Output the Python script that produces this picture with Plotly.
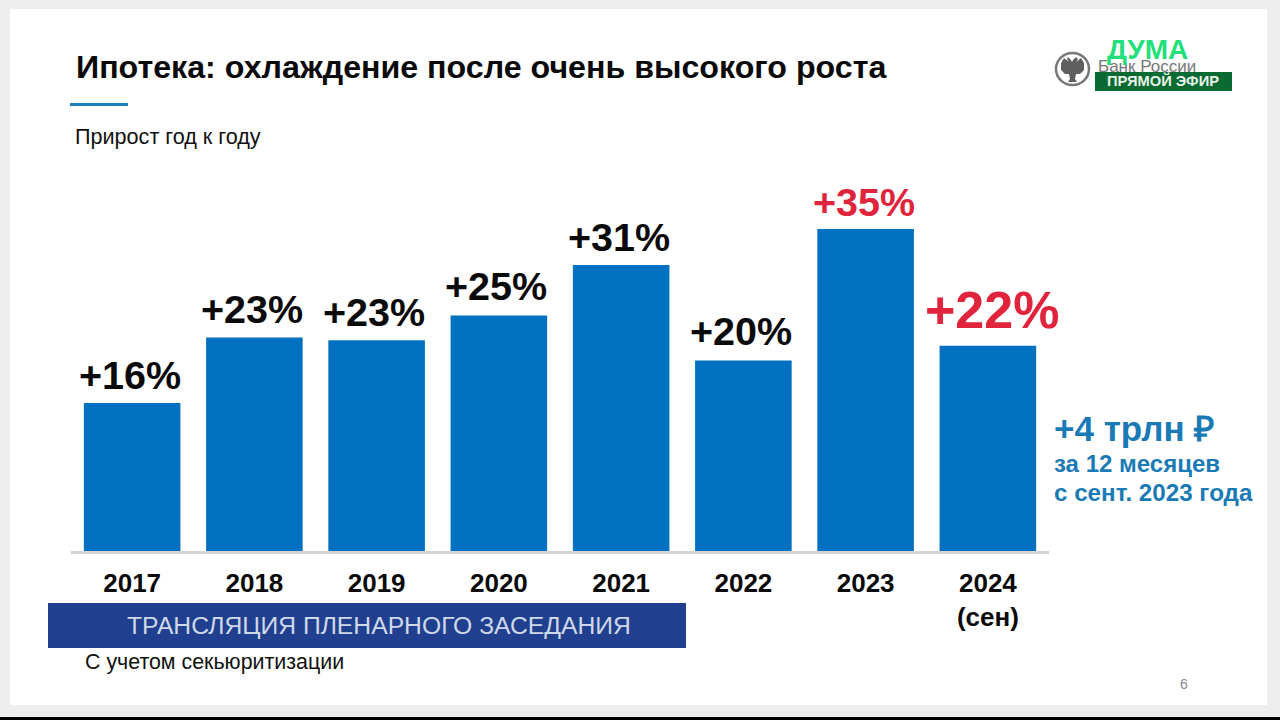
import plotly.graph_objects as go

years = ["2017", "2018", "2019", "2020", "2021", "2022", "2023", "2024<br>(сен)"]
growth = [16.1, 23.2, 22.9, 25.6, 31.1, 20.7, 35.0, 22.3]
labels = ["+16%", "+23%", "+23%", "+25%", "+31%", "+20%", "+35%", "+22%"]
label_colors = ["#0a0a0a"] * 6 + ["#e0243c", "#e0243c"]
label_sizes = [39.5, 39.5, 39.5, 39.5, 39.5, 39.5, 39.5, 52]
label_xshift = [-2.5, -2.5, -2.5, -2.5, -2.5, -2.5, -2, 4]
label_yshift = [5, 6, 5, 6, 5, 7, 4, 6]

W, H = 1280, 720
L, R, T, B = 71, 1049, 150, 551
SANS = "Liberation Sans"


def px(x):
    return (x - L) / (R - L)


def py(y):
    return (B - y) / (B - T)


def rect(x0, y0, x1, y1, color, layer="above"):
    return dict(type="rect", xref="paper", yref="paper", x0=px(x0), x1=px(x1), y0=py(y0), y1=py(y1),
                fillcolor=color, line_width=0, layer=layer)


def text(x, y, s, size, color, bold=False, anchor="left"):
    return dict(xref="paper", yref="paper", x=px(x), y=py(y), text=f"<b>{s}</b>" if bold else s,
                showarrow=False, xanchor=anchor, yanchor="middle", align=anchor,
                font=dict(family=SANS, size=size, color=color), borderpad=0, borderwidth=0)


def path(points, color):
    d = "M " + " L ".join(f"{px(a):.5f},{py(b):.5f}" for a, b in points) + " Z"
    return dict(type="path", xref="paper", yref="paper", path=d, fillcolor=color, line_width=0)


fig = go.Figure(go.Bar(
    x=years, y=growth, cliponaxis=False,
    marker=dict(color="#0070C0", line_width=0), width=0.79, hoverinfo="skip",
))

shapes = [
    rect(10, 9, 1267, 705, "#ffffff", "below"),
    rect(0, 717, 1280, 720, "#000000"),
    rect(70, 103, 128, 106, "#1a7fba"),
    rect(48, 603, 686, 648, "#20408f"),
    dict(type="circle", xref="paper", yref="paper", x0=px(1056), x1=px(1089), y0=py(85), y1=py(53),
         fillcolor="#ffffff", line=dict(color="#777777", width=2.5)),
    path([(1068, 57), (1071, 60), (1072, 62), (1073, 60), (1076, 57), (1078, 59), (1076, 62),
          (1081, 58), (1084, 63), (1084, 70), (1080, 74), (1076, 74), (1075, 79), (1077, 82),
          (1068, 82), (1070, 79), (1069, 74), (1065, 74), (1061, 70), (1061, 63), (1064, 58),
          (1069, 62), (1067, 59)], "#5f5f5f"),
    rect(1095, 72, 1232, 91, "#0a6b32"),
]

annotations = [
    text(76, 67, "Ипотека: охлаждение после очень высокого роста", 32.2, "#0a0a0a", bold=True),
    text(75, 137, "Прирост год к году", 21.6, "#111111"),
    text(1054, 428, "+4 трлн ₽", 35, "#1a7ab5", bold=True),
    text(1054, 463, "за 12 месяцев", 24, "#1a7ab5", bold=True),
    text(1054, 492, "с сент. 2023 года", 24.2, "#1a7ab5", bold=True),
    text(379, 625, "ТРАНСЛЯЦИЯ ПЛЕНАРНОГО ЗАСЕДАНИЯ", 24.7, "#cfd8e8", anchor="center"),
    text(85, 662, "С учетом секьюритизации", 21.4, "#111111"),
    text(1184, 684, "6", 14, "#888888", anchor="center"),
    text(1098, 67, "Банк России", 17, "#777777"),
    text(1147, 49, "ДУМА", 28, "#1fe07a", bold=True, anchor="center"),
    text(1163, 81, "ПРЯМОЙ ЭФИР", 14.7, "#e8f2ea", bold=True, anchor="center"),
]

for i, (value, label, color, size, sx, sy) in enumerate(
        zip(growth, labels, label_colors, label_sizes, label_xshift, label_yshift)):
    annotations.append(dict(
        x=i, y=value, xref="x", yref="y", text=f"<b>{label}</b>", showarrow=False,
        xanchor="center", yanchor="bottom", xshift=sx, yshift=sy, borderpad=0,
        font=dict(family=SANS, size=size, color=color),
    ))

fig.update_layout(
    width=W, height=H, margin=dict(l=L, r=W - R, t=T, b=H - B, pad=0),
    paper_bgcolor="#eeeeee", plot_bgcolor="rgba(0,0,0,0)", showlegend=False, bargap=0.21,
    shapes=shapes, annotations=annotations,
    xaxis=dict(type="category", categoryorder="array", categoryarray=years, range=[-0.5, 7.5],
               showgrid=False, showline=True, linecolor="#d4d4d4", linewidth=3,
               ticks="", ticklabelstandoff=7, tickangle=0,
               tickfont=dict(family=SANS, size=26, color="#0a0a0a", weight="bold")),
    yaxis=dict(range=[0, (B - T) / 9.2], visible=False),
)

fig.write_html("out.html", post_script="document.body.style.margin='0';document.body.style.overflow='hidden';",
               config=dict(displayModeBar=False))
